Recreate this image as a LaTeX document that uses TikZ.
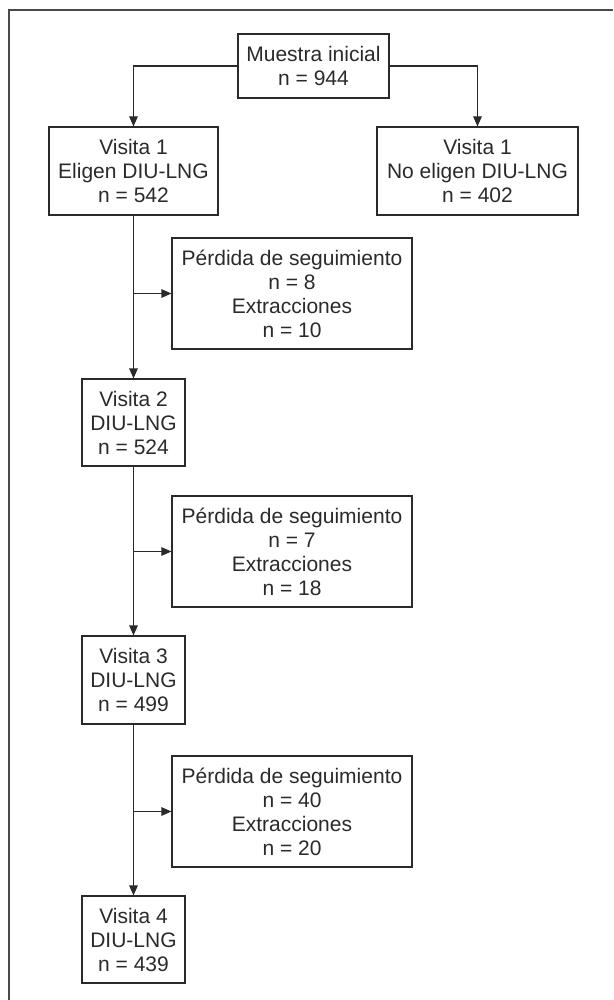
\documentclass[tikz,border=0pt]{standalone}
\usepackage{fontspec}
\setmainfont{Liberation Sans}
\usetikzlibrary{arrows.meta}
\definecolor{ink}{HTML}{2A2A2A}
\begin{document}
\begin{tikzpicture}[x=1pt,y=1pt,
  box/.style={draw=ink,line width=1.1pt,text=ink,align=center,inner sep=0pt,
    font=\fontsize{21}{24}\selectfont},
  conn/.style={draw=ink,line width=1.1pt},
  arr/.style={conn,-{Triangle[length=10pt,width=8.5pt]}}]
\useasboundingbox (0,0) rectangle (613,-1000);
\draw[draw=ink!85,line width=1.6pt] (9,-1000) -- (9,-10) -- (613,-10);
% nodes
\node[box,minimum width=151pt,minimum height=64pt] (m) at (313.5,-66) {Muestra inicial\\n = 944};
\node[box,minimum width=169pt,minimum height=88pt] (v1) at (133.5,-171) {Visita 1\\Eligen DIU-LNG\\n = 542};
\node[box,minimum width=201pt,minimum height=88pt] (v1n) at (477.5,-171) {Visita 1\\No eligen DIU-LNG\\n = 402};
\node[box,minimum width=240pt,minimum height=111pt] (p1) at (292,-293.5) {Pérdida de seguimiento\\n = 8\\Extracciones\\n = 10};
\node[box,minimum width=103pt,minimum height=87pt] (v2) at (133.5,-422.5) {Visita 2\\DIU-LNG\\n = 524};
\node[box,minimum width=240pt,minimum height=111pt] (p2) at (292,-551.5) {Pérdida de seguimiento\\n = 7\\Extracciones\\n = 18};
\node[box,minimum width=103pt,minimum height=88pt] (v3) at (133.5,-680) {Visita 3\\DIU-LNG\\n = 499};
\node[box,minimum width=240pt,minimum height=111pt] (p3) at (292,-811.5) {Pérdida de seguimiento\\n = 40\\Extracciones\\n = 20};
\node[box,minimum width=103pt,minimum height=87pt] (v4) at (133.5,-939.5) {Visita 4\\DIU-LNG\\n = 439};
% connectors
\draw[arr] (m.west) -| (v1.north);
\draw[arr] (m.east) -| (v1n.north);
\draw[arr] (v1.south) -- (v2.north);
\draw[arr] (v2.south) -- (v3.north);
\draw[arr] (v3.south) -- (v4.north);
\coordinate (b1) at (v1.south |- p1.west);
\coordinate (b2) at (v2.south |- p2.west);
\coordinate (b3) at (v3.south |- p3.west);
\draw[arr] (b1) -- (p1.west);
\draw[arr] (b2) -- (p2.west);
\draw[arr] (b3) -- (p3.west);
\end{tikzpicture}
\end{document}
